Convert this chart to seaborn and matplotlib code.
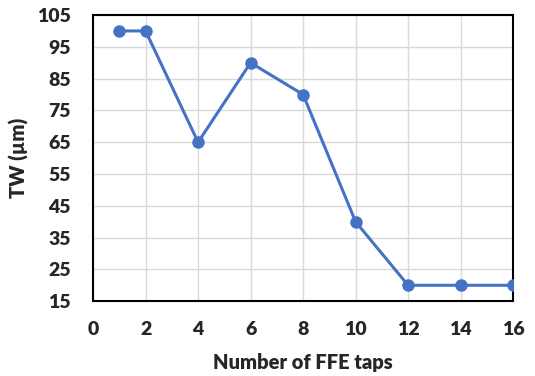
import matplotlib
matplotlib.use("Agg")
import matplotlib.pyplot as plt
import seaborn as sns
import pandas as pd

taps = [1, 2, 4, 6, 8, 10, 12, 14, 16]
tw_um = [100, 100, 65, 90, 80, 40, 20, 20, 20]
x_ticks = [0, 2, 4, 6, 8, 10, 12, 14, 16]
y_ticks = [15, 25, 35, 45, 55, 65, 75, 85, 95, 105]

sns.set_style("white")
plt.rcParams["font.family"] = ["Lato", "DejaVu Sans"]

df = pd.DataFrame({"taps": taps, "tw": tw_um})

fig = plt.figure(figsize=(5.35, 3.76), dpi=100)
ax = fig.add_axes([0.174, 0.199, 0.785, 0.761])

sns.lineplot(data=df, x="taps", y="tw", ax=ax, color="#4472C4",
             linewidth=2.2, marker="o", markersize=9, markeredgewidth=0,
             zorder=3)

ax.set_xlim(0, 16)
ax.set_ylim(15, 105)
ax.set_xticks(x_ticks)
ax.set_yticks(y_ticks)
ax.grid(True, color="#D9D9D9", linewidth=1.0)
ax.set_axisbelow(True)
for s in ax.spines.values():
    s.set_visible(True)
    s.set_color("black")
    s.set_linewidth(1.5)

ax.tick_params(axis="both", length=0, labelsize=14)
ax.tick_params(axis="y", pad=16)
ax.tick_params(axis="x", pad=14)
for lbl in ax.get_xticklabels() + ax.get_yticklabels():
    lbl.set_fontweight("heavy")

ax.set_xlabel("Number of FFE taps", fontsize=14.5, fontweight="heavy", labelpad=11)
ax.set_ylabel("TW (µm)", fontsize=14.5, fontweight="heavy", labelpad=6)

fig.savefig("out.png", dpi=100)
